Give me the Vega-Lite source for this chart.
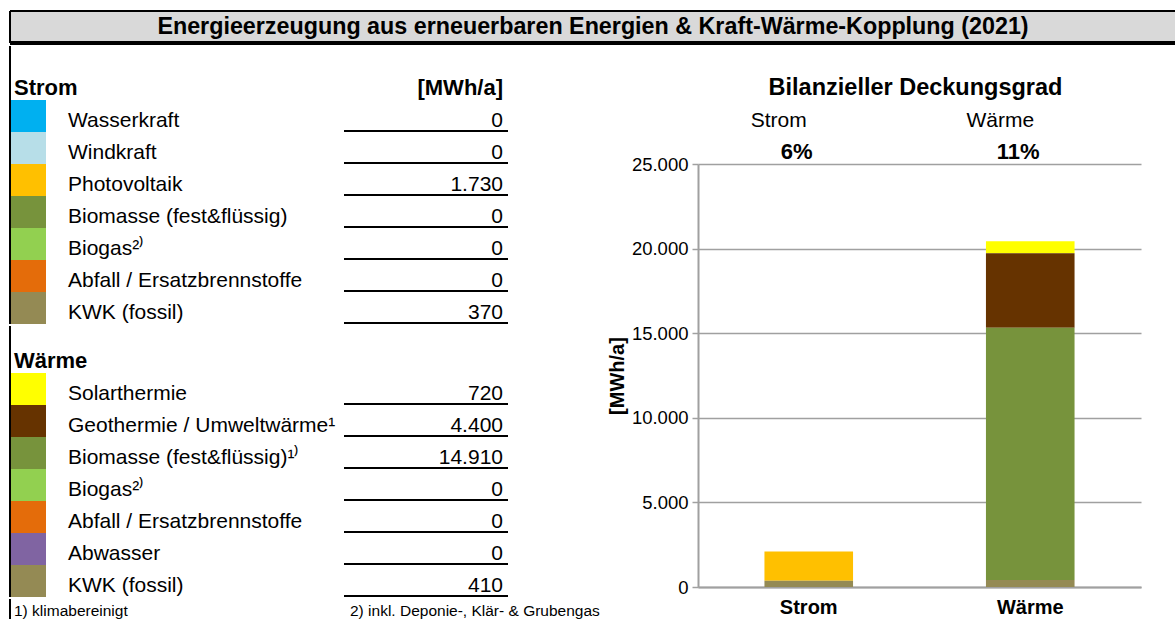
{
  "$schema": "https://vega.github.io/schema/vega-lite/v6.json",
  "padding": {"left": 8, "top": 10, "right": 0, "bottom": 0},
  "bounds": "full",
  "spacing": 0,
  "config": {
    "font": "Liberation Sans",
    "view": {"stroke": null},
    "locale": {"number": {"decimal": ",", "thousands": ".", "grouping": [3], "currency": ["", " €"]}},
    "axis": {"labelColor": "black", "titleColor": "black", "labelFont": "Liberation Sans", "titleFont": "Liberation Sans"}
  },
  "datasets": {
    "rows": [
      {"sec": "Strom", "i": 1, "label": "Wasserkraft", "src": "Wasserkraft", "mwh": 0},
      {"sec": "Strom", "i": 2, "label": "Windkraft", "src": "Windkraft", "mwh": 0},
      {"sec": "Strom", "i": 3, "label": "Photovoltaik", "src": "Photovoltaik", "mwh": 1730},
      {"sec": "Strom", "i": 4, "label": "Biomasse (fest&flüssig)", "src": "Biomasse", "mwh": 0},
      {"sec": "Strom", "i": 5, "label": "Biogas²⁾", "src": "Biogas", "mwh": 0},
      {"sec": "Strom", "i": 6, "label": "Abfall / Ersatzbrennstoffe", "src": "Abfall", "mwh": 0},
      {"sec": "Strom", "i": 7, "label": "KWK (fossil)", "src": "KWK", "mwh": 370},
      {"sec": "Wärme", "i": 1, "label": "Solarthermie", "src": "Solarthermie", "mwh": 720},
      {"sec": "Wärme", "i": 2, "label": "Geothermie / Umweltwärme¹", "src": "Geothermie", "mwh": 4400},
      {"sec": "Wärme", "i": 3, "label": "Biomasse (fest&flüssig)¹⁾", "src": "Biomasse", "mwh": 14910},
      {"sec": "Wärme", "i": 4, "label": "Biogas²⁾", "src": "Biogas", "mwh": 0},
      {"sec": "Wärme", "i": 5, "label": "Abfall / Ersatzbrennstoffe", "src": "Abfall", "mwh": 0},
      {"sec": "Wärme", "i": 6, "label": "Abwasser", "src": "Abwasser", "mwh": 0},
      {"sec": "Wärme", "i": 7, "label": "KWK (fossil)", "src": "KWK", "mwh": 410}
    ],
    "heads": [
      {"sec": "Strom", "head": "Strom", "unit": "[MWh/a]"},
      {"sec": "Wärme", "head": "Wärme", "unit": ""}
    ],
    "deck": [
      {"sec": "Strom", "pct": "6%"},
      {"sec": "Wärme", "pct": "11%"}
    ]
  },
  "vconcat": [
    {
      "width": 1166,
      "height": 32,
      "view": {"fill": "#d9d9d9", "stroke": null},
      "data": {"values": [{"t": "Energieerzeugung aus erneuerbaren Energien & Kraft-Wärme-Kopplung (2021)"}]},
      "layer": [
        {"mark": {"type": "text", "fontSize": 23.3, "fontWeight": "bold", "baseline": "middle", "color": "black"}, "encoding": {"text": {"field": "t"}}},
        {"mark": {"type": "rule", "strokeWidth": 2, "color": "black"}, "encoding": {"y": {"value": 0}}},
        {"mark": {"type": "rule", "strokeWidth": 2, "color": "black"}, "encoding": {"x": {"value": 0}}},
        {"mark": {"type": "rule", "strokeWidth": 4, "color": "black"}, "encoding": {"y": {"value": "height"}}}
      ]
    },
    {
      "bounds": "full",
      "spacing": 7,
      "hconcat": [
        {
          "bounds": "full",
          "spacing": 0,
          "vconcat": [
            {
              "bounds": "flush",
              "spacing": 0,
              "hconcat": [
                {
                  "width": 36, "height": 278,
                  "layer": [
                    {"data": {"name": "rows"}, "transform": [{"filter": "datum.sec === 'Strom'"}], "mark": {"type": "rect"},
                     "encoding": {
                       "y": {"field": "label", "type": "nominal", "axis": null, "scale": {"type": "band", "domain": ["Strom", "Wasserkraft", "Windkraft", "Photovoltaik", "Biomasse (fest&flüssig)", "Biogas²⁾", "Abfall / Ersatzbrennstoffe", "KWK (fossil)"], "paddingInner": 0, "paddingOuter": 0.34375, "align": 1}},
                       "x": {"value": 0}, "x2": {"value": "width"},
                       "color": {"field": "src", "type": "nominal", "legend": null, "scale": {"domain": ["Wasserkraft", "Windkraft", "Photovoltaik", "Biomasse", "Biogas", "Abfall", "KWK", "Solarthermie", "Geothermie", "Abwasser"], "range": ["#00b0f0", "#b7dee8", "#ffc000", "#77933c", "#92d050", "#e46c0a", "#948a54", "#ffff00", "#663300", "#8064a2"]}}
                     }},
                    {"data": {"name": "heads"}, "transform": [{"filter": "datum.sec === 'Strom'"}],
                     "mark": {"type": "text", "align": "left", "baseline": "alphabetic", "fontWeight": "bold", "fontSize": 22, "dx": 4, "dy": -5, "color": "black"},
                     "encoding": {
                       "y": {"field": "head", "type": "nominal", "axis": null, "bandPosition": 1, "scale": {"type": "band", "domain": ["Strom", "Wasserkraft", "Windkraft", "Photovoltaik", "Biomasse (fest&flüssig)", "Biogas²⁾", "Abfall / Ersatzbrennstoffe", "KWK (fossil)"], "paddingInner": 0, "paddingOuter": 0.34375, "align": 1}},
                       "x": {"value": 0},
                       "text": {"field": "head"}
                     }},
                    {"data": {"values": [{}]}, "mark": {"type": "rule", "strokeWidth": 2, "color": "black"}, "encoding": {"x": {"value": 0}}}
                  ]
                },
                {
                  "width": 298, "height": 278,
                  "data": {"name": "rows"},
                  "transform": [{"filter": "datum.sec === 'Strom'"}],
                  "mark": {"type": "text", "align": "left", "baseline": "alphabetic", "fontSize": 21, "dx": 22, "dy": -5, "color": "black"},
                  "encoding": {
                    "y": {"field": "label", "type": "nominal", "axis": null, "bandPosition": 1, "scale": {"type": "band", "domain": ["Strom", "Wasserkraft", "Windkraft", "Photovoltaik", "Biomasse (fest&flüssig)", "Biogas²⁾", "Abfall / Ersatzbrennstoffe", "KWK (fossil)"], "paddingInner": 0, "paddingOuter": 0.34375, "align": 1}},
                    "x": {"value": 0},
                    "text": {"field": "label"}
                  }
                },
                {
                  "width": 164, "height": 278,
                  "layer": [
                    {"data": {"name": "rows"}, "transform": [{"filter": "datum.sec === 'Strom'"}],
                     "mark": {"type": "rule", "strokeWidth": 2, "color": "black", "yOffset": -1},
                     "encoding": {
                       "y": {"field": "label", "type": "nominal", "axis": null, "bandPosition": 1, "scale": {"type": "band", "domain": ["Strom", "Wasserkraft", "Windkraft", "Photovoltaik", "Biomasse (fest&flüssig)", "Biogas²⁾", "Abfall / Ersatzbrennstoffe", "KWK (fossil)"], "paddingInner": 0, "paddingOuter": 0.34375, "align": 1}}
                     }},
                    {"data": {"name": "rows"}, "transform": [{"filter": "datum.sec === 'Strom'"}],
                     "mark": {"type": "text", "align": "right", "baseline": "alphabetic", "fontSize": 21, "dx": -5, "dy": -5, "color": "black"},
                     "encoding": {
                       "y": {"field": "label", "type": "nominal", "axis": null, "bandPosition": 1, "scale": {"type": "band", "domain": ["Strom", "Wasserkraft", "Windkraft", "Photovoltaik", "Biomasse (fest&flüssig)", "Biogas²⁾", "Abfall / Ersatzbrennstoffe", "KWK (fossil)"], "paddingInner": 0, "paddingOuter": 0.34375, "align": 1}},
                       "x": {"value": "width"},
                       "text": {"field": "mwh", "type": "quantitative", "format": ",.0f"}
                     }},
                    {"data": {"name": "heads"}, "transform": [{"filter": "datum.sec === 'Strom'"}],
                     "mark": {"type": "text", "align": "right", "baseline": "alphabetic", "fontSize": 22, "fontWeight": "bold", "dx": -5, "dy": -5, "color": "black"},
                     "encoding": {
                       "y": {"field": "head", "type": "nominal", "axis": null, "bandPosition": 1, "scale": {"type": "band", "domain": ["Strom", "Wasserkraft", "Windkraft", "Photovoltaik", "Biomasse (fest&flüssig)", "Biogas²⁾", "Abfall / Ersatzbrennstoffe", "KWK (fossil)"], "paddingInner": 0, "paddingOuter": 0.34375, "align": 1}},
                       "x": {"value": "width"},
                       "text": {"field": "unit"}
                     }}
                  ]
                }
              ]
            },
            {
              "bounds": "flush",
              "spacing": 0,
              "hconcat": [
                {
                  "width": 36, "height": 271,
                  "layer": [
                    {"data": {"name": "rows"}, "transform": [{"filter": "datum.sec === 'Wärme'"}], "mark": {"type": "rect"},
                     "encoding": {
                       "y": {"field": "label", "type": "nominal", "axis": null, "scale": {"type": "band", "domain": ["Wärme", "Solarthermie", "Geothermie / Umweltwärme¹", "Biomasse (fest&flüssig)¹⁾", "Biogas²⁾", "Abfall / Ersatzbrennstoffe", "Abwasser", "KWK (fossil)"], "paddingInner": 0, "paddingOuter": 0.234375, "align": 1}},
                       "x": {"value": 0}, "x2": {"value": "width"},
                       "color": {"field": "src", "type": "nominal", "legend": null, "scale": {"domain": ["Wasserkraft", "Windkraft", "Photovoltaik", "Biomasse", "Biogas", "Abfall", "KWK", "Solarthermie", "Geothermie", "Abwasser"], "range": ["#00b0f0", "#b7dee8", "#ffc000", "#77933c", "#92d050", "#e46c0a", "#948a54", "#ffff00", "#663300", "#8064a2"]}}
                     }},
                    {"data": {"name": "heads"}, "transform": [{"filter": "datum.sec === 'Wärme'"}],
                     "mark": {"type": "text", "align": "left", "baseline": "alphabetic", "fontWeight": "bold", "fontSize": 22, "dx": 4, "dy": -5, "color": "black"},
                     "encoding": {
                       "y": {"field": "head", "type": "nominal", "axis": null, "bandPosition": 1, "scale": {"type": "band", "domain": ["Wärme", "Solarthermie", "Geothermie / Umweltwärme¹", "Biomasse (fest&flüssig)¹⁾", "Biogas²⁾", "Abfall / Ersatzbrennstoffe", "Abwasser", "KWK (fossil)"], "paddingInner": 0, "paddingOuter": 0.234375, "align": 1}},
                       "x": {"value": 0},
                       "text": {"field": "head"}
                     }},
                    {"data": {"values": [{}]}, "mark": {"type": "rule", "strokeWidth": 2, "color": "black"}, "encoding": {"x": {"value": 0}}}
                  ]
                },
                {
                  "width": 298, "height": 271,
                  "data": {"name": "rows"},
                  "transform": [{"filter": "datum.sec === 'Wärme'"}],
                  "mark": {"type": "text", "align": "left", "baseline": "alphabetic", "fontSize": 21, "dx": 22, "dy": -5, "color": "black"},
                  "encoding": {
                    "y": {"field": "label", "type": "nominal", "axis": null, "bandPosition": 1, "scale": {"type": "band", "domain": ["Wärme", "Solarthermie", "Geothermie / Umweltwärme¹", "Biomasse (fest&flüssig)¹⁾", "Biogas²⁾", "Abfall / Ersatzbrennstoffe", "Abwasser", "KWK (fossil)"], "paddingInner": 0, "paddingOuter": 0.234375, "align": 1}},
                    "x": {"value": 0},
                    "text": {"field": "label"}
                  }
                },
                {
                  "width": 164, "height": 271,
                  "layer": [
                    {"data": {"name": "rows"}, "transform": [{"filter": "datum.sec === 'Wärme'"}],
                     "mark": {"type": "rule", "strokeWidth": 2, "color": "black", "yOffset": -1},
                     "encoding": {
                       "y": {"field": "label", "type": "nominal", "axis": null, "bandPosition": 1, "scale": {"type": "band", "domain": ["Wärme", "Solarthermie", "Geothermie / Umweltwärme¹", "Biomasse (fest&flüssig)¹⁾", "Biogas²⁾", "Abfall / Ersatzbrennstoffe", "Abwasser", "KWK (fossil)"], "paddingInner": 0, "paddingOuter": 0.234375, "align": 1}}
                     }},
                    {"data": {"name": "rows"}, "transform": [{"filter": "datum.sec === 'Wärme'"}],
                     "mark": {"type": "text", "align": "right", "baseline": "alphabetic", "fontSize": 21, "dx": -5, "dy": -5, "color": "black"},
                     "encoding": {
                       "y": {"field": "label", "type": "nominal", "axis": null, "bandPosition": 1, "scale": {"type": "band", "domain": ["Wärme", "Solarthermie", "Geothermie / Umweltwärme¹", "Biomasse (fest&flüssig)¹⁾", "Biogas²⁾", "Abfall / Ersatzbrennstoffe", "Abwasser", "KWK (fossil)"], "paddingInner": 0, "paddingOuter": 0.234375, "align": 1}},
                       "x": {"value": "width"},
                       "text": {"field": "mwh", "type": "quantitative", "format": ",.0f"}
                     }}
                  ]
                }
              ]
            },
            {
              "bounds": "flush",
              "spacing": 0,
              "hconcat": [
                {
                  "width": 334, "height": 24,
                  "layer": [
                    {"data": {"values": [{"t": "1) klimabereinigt"}]},
                     "mark": {"type": "text", "align": "left", "baseline": "middle", "fontSize": 15.5, "dx": 4, "color": "black"},
                     "encoding": {"x": {"value": 0}, "text": {"field": "t"}}},
                    {"data": {"values": [{}]}, "mark": {"type": "rule", "strokeWidth": 2, "color": "black"}, "encoding": {"x": {"value": 0}}}
                  ]
                },
                {
                  "width": 255, "height": 24,
                  "data": {"values": [{"t": "2) inkl. Deponie-, Klär- & Grubengas"}]},
                  "mark": {"type": "text", "align": "left", "baseline": "middle", "fontSize": 15.5, "dx": 6, "color": "black"},
                  "encoding": {"x": {"value": 0}, "text": {"field": "t"}}
                }
              ]
            }
          ]
        },
        {
          "bounds": "flush",
          "spacing": 0,
          "vconcat": [
            {
              "width": 443, "height": 118,
              "layer": [
                {"data": {"values": [{"t": "Bilanzieller Deckungsgrad"}]},
                 "mark": {"type": "text", "fontSize": 23.5, "fontWeight": "bold", "baseline": "alphabetic", "dx": -4, "color": "black"},
                 "encoding": {
                   "y": {"datum": "t", "type": "nominal", "axis": null, "bandPosition": 1, "scale": {"type": "band", "domain": ["t", "n", "p"], "paddingInner": 0, "paddingOuter": 0.34375, "align": 0.7727}},
                   "text": {"field": "t"}
                 }},
                {"data": {"name": "deck"},
                 "mark": {"type": "text", "fontSize": 21, "baseline": "alphabetic", "dx": -30, "color": "black"},
                 "encoding": {
                   "x": {"field": "sec", "type": "nominal", "axis": null, "scale": {"type": "band", "domain": ["Strom", "Wärme"], "paddingInner": 0.6, "paddingOuter": 0.3}},
                   "y": {"datum": "n", "type": "nominal", "axis": null, "bandPosition": 1, "scale": {"type": "band", "domain": ["t", "n", "p"], "paddingInner": 0, "paddingOuter": 0.34375, "align": 0.7727}},
                   "text": {"field": "sec"}
                 }},
                {"data": {"name": "deck"},
                 "mark": {"type": "text", "fontSize": 22, "fontWeight": "bold", "baseline": "alphabetic", "dx": -12, "color": "black"},
                 "encoding": {
                   "x": {"field": "sec", "type": "nominal", "axis": null, "scale": {"type": "band", "domain": ["Strom", "Wärme"], "paddingInner": 0.6, "paddingOuter": 0.3}},
                   "y": {"datum": "p", "type": "nominal", "axis": null, "bandPosition": 1, "scale": {"type": "band", "domain": ["t", "n", "p"], "paddingInner": 0, "paddingOuter": 0.34375, "align": 0.7727}},
                   "text": {"field": "pct"}
                 }}
              ]
            },
            {
              "width": 443, "height": 423,
              "data": {"name": "rows"},
              "mark": {"type": "bar"},
              "encoding": {
                "x": {"field": "sec", "type": "nominal", "scale": {"type": "band", "domain": ["Strom", "Wärme"], "paddingInner": 0.6, "paddingOuter": 0.3},
                      "axis": {"title": null, "labelAngle": 0, "labelFontSize": 20, "labelFontWeight": "bold", "ticks": false, "domainColor": "#a0a0a0", "domainWidth": 2, "labelPadding": 10}},
                "y": {"field": "mwh", "type": "quantitative", "stack": "zero", "scale": {"domain": [0, 25000], "nice": false},
                      "axis": {"title": "[MWh/a]", "titleFontSize": 20, "titleFontWeight": "bold", "titlePadding": 4, "values": [0, 5000, 10000, 15000, 20000, 25000], "format": ",.0f", "labelFontSize": 18.5, "labelPadding": 4, "tickSize": 6, "tickColor": "#a0a0a0", "tickWidth": 1.5, "domainColor": "#a0a0a0", "domainWidth": 2, "grid": true, "gridColor": "#a0a0a0", "gridWidth": 1.5}},
                "order": {"field": "i", "type": "quantitative", "sort": "descending"},
                "color": {"field": "src", "type": "nominal", "legend": null,
                          "scale": {"domain": ["Wasserkraft", "Windkraft", "Photovoltaik", "Biomasse", "Biogas", "Abfall", "KWK", "Solarthermie", "Geothermie", "Abwasser"], "range": ["#00b0f0", "#b7dee8", "#ffc000", "#77933c", "#92d050", "#e46c0a", "#948a54", "#ffff00", "#663300", "#8064a2"]}}
              }
            }
          ]
        }
      ]
    }
  ]
}
